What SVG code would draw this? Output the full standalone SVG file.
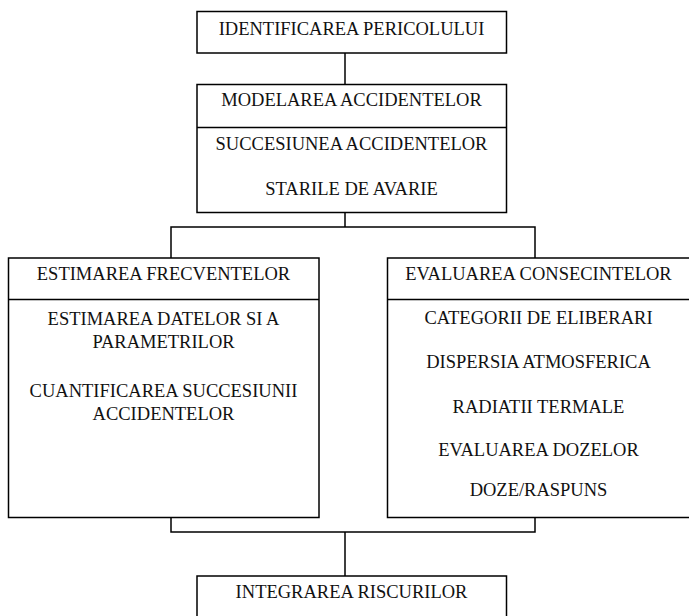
<svg xmlns="http://www.w3.org/2000/svg" width="689" height="616" viewBox="0 0 689 616">
  <style>
    .box { fill: #ffffff; stroke: #000000; stroke-width: 1.5; }
    .line { fill: none; stroke: #000000; stroke-width: 1.5; }
    .t { font-family: "Liberation Serif", "Times New Roman", serif; font-size: 18.5px; fill: #111111; text-anchor: middle; }
  </style>
  <rect x="0" y="0" width="689" height="616" fill="#ffffff"/>
  <g id="connectors">
    <path class="line" d="M345 53 V84.5"/>
    <path class="line" d="M345 212.5 V227 M171 258 V227 H535 V258"/>
    <path class="line" d="M171 517.5 V532 H535 V517.5 M345 532 V576"/>
  </g>
  <g id="identificarea">
    <rect class="box" x="197" y="11.5" width="309.5" height="41.5"/>
    <text class="t" x="351.5" y="34.5">IDENTIFICAREA PERICOLULUI</text>
  </g>
  <g id="modelarea">
    <rect class="box" x="197" y="84.5" width="309.5" height="128"/>
    <path class="line" d="M197 127.5 H506.5"/>
    <text class="t" x="351.5" y="106">MODELAREA ACCIDENTELOR</text>
    <text class="t" x="351.5" y="150">SUCCESIUNEA ACCIDENTELOR</text>
    <text class="t" x="351.5" y="194.5">STARILE DE AVARIE</text>
  </g>
  <g id="estimarea">
    <rect class="box" x="8.5" y="258" width="310.5" height="259.5"/>
    <path class="line" d="M8.5 299.5 H319"/>
    <text class="t" x="163.5" y="280">ESTIMAREA FRECVENTELOR</text>
    <text class="t" x="163.5" y="324.5">ESTIMAREA DATELOR SI A</text>
    <text class="t" x="163.5" y="347.5">PARAMETRILOR</text>
    <text class="t" x="163.5" y="396.5">CUANTIFICAREA SUCCESIUNII</text>
    <text class="t" x="163.5" y="419.5">ACCIDENTELOR</text>
  </g>
  <g id="evaluarea">
    <rect class="box" x="387.5" y="258" width="305" height="259.5"/>
    <path class="line" d="M387.5 299.5 H692"/>
    <text class="t" x="538.5" y="280">EVALUAREA CONSECINTELOR</text>
    <text class="t" x="538.5" y="323.5">CATEGORII DE ELIBERARI</text>
    <text class="t" x="538.5" y="368">DISPERSIA ATMOSFERICA</text>
    <text class="t" x="538.5" y="412.5">RADIATII TERMALE</text>
    <text class="t" x="538.5" y="456">EVALUAREA DOZELOR</text>
    <text class="t" x="538.5" y="496">DOZE/RASPUNS</text>
  </g>
  <g id="integrarea">
    <rect class="box" x="197" y="576" width="309.5" height="60"/>
    <text class="t" x="351.5" y="598">INTEGRAREA RISCURILOR</text>
  </g>
</svg>
